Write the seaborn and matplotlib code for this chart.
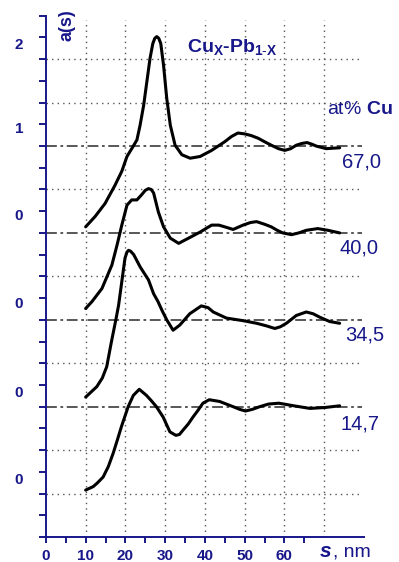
import matplotlib
matplotlib.use("Agg")
import matplotlib.pyplot as plt
import seaborn as sns
import pandas as pd

# ---- data (a(s) curves) ----
labels = ["67,0", "40,0", "34,5", "14,7"]
offsets = [3, 2, 1, 0]

s67 = [10, 12.4, 14.9, 17.4, 19.1, 20.4, 21.6, 22.9, 23.7, 24.6, 25.4, 26.2, 26.9, 27.4, 27.9,
       28.4, 28.9, 29.6, 30.4, 31.3, 32.5, 34.2, 36.3, 38.8, 41.7, 45.0, 46.7, 48.3, 50.0, 51.7,
       53.4, 55.0, 56.7, 58.5, 60.1, 61.6, 63.0, 64.4, 65.7, 67.0, 68.0, 70.5, 73.9]
a67 = [0.07, 0.19, 0.34, 0.55, 0.71, 0.88, 0.97, 1.07, 1.24, 1.47, 1.74, 2.01, 2.18, 2.24, 2.26,
       2.24, 2.18, 1.93, 1.55, 1.24, 1.01, 0.90, 0.86, 0.88, 0.95, 1.05, 1.11, 1.15, 1.14, 1.12,
       1.09, 1.05, 1.01, 0.97, 0.95, 0.97, 1.01, 1.03, 1.04, 1.02, 1.00, 0.97, 0.98]

s40 = [10, 11.6, 14.1, 16.6, 17.9, 19.1, 20.4, 21.6, 22.9, 24.1, 25.0, 25.8, 26.5, 27.1, 28.3,
       29.6, 31.3, 33.4, 35.9, 38.8, 41.7, 43.5, 45.0, 47.1, 49.6, 51.5, 53.0, 55.0, 56.7, 58.2,
       59.6, 61.8, 63.6, 65.5, 68.4, 71.0, 73.9]
a40 = [0.13, 0.21, 0.36, 0.63, 0.86, 1.09, 1.32, 1.38, 1.38, 1.44, 1.49, 1.51, 1.50, 1.46, 1.24,
       1.07, 0.94, 0.88, 0.94, 1.01, 1.09, 1.09, 1.07, 1.04, 1.09, 1.12, 1.13, 1.10, 1.07, 1.03,
       1.00, 0.98, 1.00, 1.03, 1.05, 1.03, 1.00]

s34 = [10, 12.8, 14.2, 15.3, 16.5, 17.6, 18.3, 19.1, 19.9, 20.4, 20.8, 21.3, 22.1, 23.7, 25.8,
       27.1, 28.2, 29.3, 30.4, 32.0, 33.7, 36.2, 39.1, 40.8, 42.1, 45.4, 49.6, 53.0, 55.5, 57.6,
       59.0, 60.5, 63.0, 65.5, 67.2, 68.9, 71.4, 73.9]
a34 = [0.11, 0.23, 0.33, 0.46, 0.75, 1.00, 1.17, 1.44, 1.71, 1.78, 1.80, 1.79, 1.75, 1.61, 1.46,
       1.30, 1.21, 1.10, 1.00, 0.88, 0.94, 1.07, 1.16, 1.14, 1.09, 1.02, 0.99, 0.96, 0.93, 0.90,
       0.92, 0.96, 1.05, 1.09, 1.07, 1.03, 0.98, 0.96]

s14 = [10, 11.9, 12.9, 14.4, 15.7, 16.9, 18.0, 19.0, 20.7, 22.0, 23.5, 25.3, 26.5, 27.8, 29.5,
       31.2, 32.7, 33.6, 34.5, 35.8, 37.0, 38.3, 39.5, 41.1, 43.7, 45.4, 47.1, 48.7, 50.2, 52.0,
       53.8, 56.0, 58.6, 62.4, 66.4, 70.1, 73.9]
a14 = [0.04, 0.08, 0.12, 0.19, 0.31, 0.46, 0.62, 0.77, 1.00, 1.13, 1.20, 1.13, 1.07, 1.00, 0.88,
       0.71, 0.67, 0.68, 0.73, 0.80, 0.88, 0.96, 1.04, 1.08, 1.06, 1.03, 1.00, 0.97, 0.95, 0.97,
       1.00, 1.03, 1.04, 1.01, 0.98, 0.99, 1.01]

xtick_vals = [0, 10, 20, 30, 40, 50, 60]
xtick_labels = ["0", "10", "20", "30", "40", "50", "60"]
ylab_text = ["2", "1", "0", "0", "0", "0"]
ylab_pos = [5.165, 4.2, 3.2, 2.18, 1.16, 0.16]

# ---- build table ----
rows = []
for lab, off, s, a in zip(labels, offsets, [s67, s40, s34, s14], [a67, a40, a34, a14]):
    for si, ai in zip(s, a):
        rows.append({"s": si, "y": ai + off, "curve": lab})
df = pd.DataFrame(rows)

sns.set_style("ticks")
plt.rcParams["font.family"] = ["Liberation Sans", "DejaVu Sans"]
plt.rcParams["mathtext.fontset"] = "custom"
plt.rcParams["mathtext.rm"] = "Liberation Sans"
plt.rcParams["mathtext.bf"] = "Liberation Sans:bold"
plt.rcParams["mathtext.it"] = "Liberation Sans:italic"

NAVY = "#17178a"
GRID = "#555555"

fig = plt.figure(figsize=(3.99, 5.62), dpi=100)
ax = fig.add_axes([0.115, 0.0445, 0.797, 0.9275])

ax.set_xlim(0, 80)
ax.set_ylim(-0.5, 5.5)

# grid
for gx in [10, 20, 30, 40, 50, 60, 70]:
    ax.vlines(gx, -0.5, 5.45, colors=GRID, linestyles=(0, (1, 3)), linewidth=1.0, zorder=1)
for gy in [0, 0.5, 1.5, 2.5, 3.5, 4.5, 5.0]:
    ax.hlines(gy, 0, 79, colors=GRID, linestyles=(0, (1, 3)), linewidth=1.0, zorder=1)
for off in offsets:
    ax.hlines(off + 1, 0, 79.5, colors="#4a4a4a", linestyles=(0, (6, 2, 1.5, 2)),
              linewidth=1.3, zorder=1)

sns.lineplot(data=df, x="s", y="y", units="curve", estimator=None, color="black",
             linewidth=2.2, ax=ax, legend=False, zorder=3,
             solid_joinstyle="round", solid_capstyle="round")

ax.set_xlabel("")
ax.set_ylabel("")

# spines & ticks
for side in ["top", "right"]:
    ax.spines[side].set_visible(False)
for side in ["left", "bottom"]:
    ax.spines[side].set_color(NAVY)
    ax.spines[side].set_linewidth(1.4)

ax.set_xticks([i * 5 for i in range(14)], minor=True)
ax.set_xticks(xtick_vals)
ax.set_xticklabels(xtick_labels, fontsize=11, fontweight="bold", color=NAVY)
ax.tick_params(axis="x", which="both", direction="out", length=4, width=1.4,
               color=NAVY, pad=5)
ax.set_yticks([-0.5 + 0.25 * i for i in range(25)])
ax.set_yticklabels([])
ax.tick_params(axis="y", direction="out", length=5, width=1.4, color=NAVY)

for t, p in zip(ylab_text, ylab_pos):
    ax.text(-6.8, p, t, fontsize=11, fontweight="bold", color=NAVY,
            ha="center", va="center", clip_on=False)

# texts
ax.text(5.4, 5.39, "a(s)", rotation=90, fontsize=13, fontweight="bold", color=NAVY,
        ha="center", va="center")
ax.text(35.6, 5.08, r"Cu$_{\mathbf{X}}$-Pb$_{\mathbf{1\text{-}X}}$", fontsize=14,
        fontweight="bold", color=NAVY, ha="left", va="baseline")
ax.text(70.6, 4.42, r"at% $\mathbf{Cu}$", fontsize=14, color=NAVY, ha="left", va="center",
        clip_on=False)

lab_x = [74.5, 73.8, 75.2, 74.2]
lab_y = [3.82, 2.83, 1.83, 0.80]
for t, lx, ly in zip(labels, lab_x, lab_y):
    ax.text(lx, ly, t, fontsize=14.5, color=NAVY, ha="left", va="center", clip_on=False)

ax.text(68.8, -0.73, "s", fontsize=15, fontweight="bold", style="italic", color=NAVY,
        ha="left", va="baseline", clip_on=False)
ax.text(72.2, -0.73, ", nm", fontsize=14, color=NAVY, ha="left", va="baseline", clip_on=False)

fig.savefig("out.png", dpi=100)
